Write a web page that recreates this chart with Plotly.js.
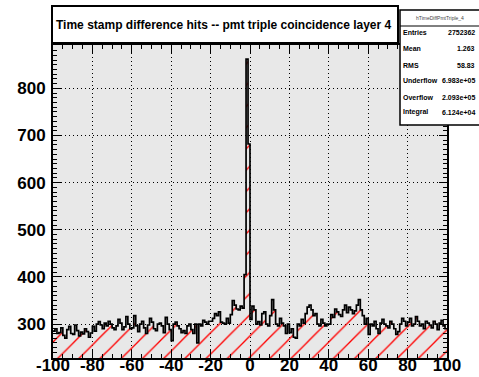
<!DOCTYPE html>
<html>
<head>
<meta charset="utf-8">
<script src="https://cdn.plot.ly/plotly-3.0.1.min.js"></script>
<style>html,body{margin:0;padding:0;background:#fff;}#chart{width:479px;height:377px;}</style>
</head>
<body>
<div id="chart"></div>
<script>
// Histogram: 200 bins of width 1 from -100 to 100
const xMin = -100;
const binWidth = 1;
const countsA = [285, 290, 280, 282, 292, 276, 270, 288, 295, 280, 278, 298, 286, 275, 283, 279, 290, 284, 272, 281];
const countsB = [295, 285, 300, 305, 298, 290, 302, 296, 306, 300, 292, 288, 296, 310, 302, 288, 294, 316, 300, 290];
const countsC = [292, 318, 296, 284, 300, 306, 292, 280, 298, 312, 304, 290, 286, 300, 302, 296, 282, 314, 300, 288];
const countsD = [265, 300, 304, 296, 290, 282, 286, 280, 296, 300, 288, 280, 300, 260, 300, 296, 308, 304, 300, 306];
const countsE = [306, 312, 322, 318, 326, 304, 302, 300, 312, 302, 320, 350, 340, 332, 330, 338, 334, 405, 862, 682];
const countsF = [310, 338, 330, 300, 305, 298, 322, 326, 300, 296, 318, 352, 330, 300, 296, 312, 302, 296, 280, 300];
const countsG = [282, 290, 272, 270, 300, 296, 310, 302, 322, 336, 340, 330, 318, 322, 300, 296, 310, 302, 296, 300];
const countsH = [300, 320, 314, 332, 326, 320, 316, 330, 340, 324, 336, 330, 322, 328, 340, 352, 330, 318, 300, 312];
const countsI = [278, 300, 296, 306, 290, 280, 302, 310, 300, 296, 292, 306, 300, 290, 278, 284, 300, 312, 306, 296];
const countsJ = [304, 312, 296, 300, 316, 306, 296, 300, 290, 306, 302, 298, 292, 306, 300, 288, 302, 308, 296, 290];

const xTickVals = [-100, -80, -60, -40, -20, 0, 20, 40, 60, 80, 100];
const xTickText = ["-100", "-80", "-60", "-40", "-20", "0", "20", "40", "60", "80", "100"];
const yTickVals = [300, 400, 500, 600, 700, 800];
const yTickText = ["300", "400", "500", "600", "700", "800"];

const titleText = "Time stamp difference hits -- pmt triple coincidence layer 4";
const statName = "hTimeDiffPmtTriple_4";
const statLabels = ["Entries", "Mean", "RMS", "Underflow", "Overflow", "Integral"];
const statValues = ["2752362", "1.263", "58.83", "6.983e+05", "2.093e+05", "6.124e+04"];

const counts = [].concat(countsA, countsB, countsC, countsD, countsE, countsF, countsG, countsH, countsI, countsJ);
const edges = [];
const stepY = [];
for (let i = 0; i < counts.length; i++) { edges.push(xMin + i * binWidth); stepY.push(counts[i]); }
edges.push(xMin + counts.length * binWidth); stepY.push(counts[counts.length - 1]);

const trace = {
  type: 'scatter', mode: 'lines', x: edges, y: stepY,
  line: {shape: 'hv', color: '#000', width: 1.7},
  fill: 'tozeroy', fillcolor: 'rgba(0,0,0,0)',
  fillpattern: {shape: '/', fgcolor: '#ff0000', bgcolor: 'rgba(0,0,0,0)', size: 15, solidity: 0.09},
  hoverinfo: 'skip', showlegend: false
};

// plot area: px 53..447 horizontally, 45..358 vertically
const L = 53, R = 447, T = 45, B = 358;
const px = v => (v - L) / (R - L);
const py = v => (B - v) / (B - T);

const tickFont = {family: 'Liberation Sans, Arial, sans-serif', size: 17, color: '#000', weight: 'bold'};
const shapes = [
  {type: 'rect', xref: 'paper', yref: 'paper', x0: px(52), x1: px(398), y0: py(43), y1: py(6), fillcolor: '#fff', line: {color: '#000', width: 2}},
  {type: 'rect', xref: 'paper', yref: 'paper', x0: px(400), x1: px(485), y0: py(125), y1: py(10), fillcolor: '#fff', line: {color: '#000', width: 1.5}},
  {type: 'line', xref: 'paper', yref: 'paper', x0: px(400), x1: px(485), y0: py(26), y1: py(26), line: {color: '#000', width: 1}}
];
const annotations = [
  {xref: 'paper', yref: 'paper', x: px(224), y: py(25), text: '<b>' + titleText + '</b>', showarrow: false, xanchor: 'center', yanchor: 'middle', font: {family: 'Liberation Sans, Arial, sans-serif', size: 12, color: '#000'}},
  {xref: 'paper', yref: 'paper', x: px(440), y: py(18), text: statName, showarrow: false, xanchor: 'center', yanchor: 'middle', font: {family: 'Liberation Sans, Arial, sans-serif', size: 5, color: '#444'}}
];
const rowY = [33, 48, 65, 80, 97, 112];
for (let i = 0; i < statLabels.length; i++) {
  annotations.push({xref: 'paper', yref: 'paper', x: px(401), y: py(rowY[i]), text: '<b>' + statLabels[i] + '</b>', showarrow: false, xanchor: 'left', yanchor: 'middle', font: {family: 'Liberation Sans, Arial, sans-serif', size: 7, color: '#000'}});
  annotations.push({xref: 'paper', yref: 'paper', x: px(477), y: py(rowY[i]), text: '<b>' + statValues[i] + '</b>', showarrow: false, xanchor: 'right', yanchor: 'middle', font: {family: 'Liberation Sans, Arial, sans-serif', size: 7, color: '#000'}});
}

const layout = {
  width: 479, height: 377,
  margin: {l: L, r: 479 - R, t: T, b: 377 - B, pad: 0},
  paper_bgcolor: '#fff', plot_bgcolor: '#e8e8e8',
  xaxis: {
    range: [-100, 100], tickmode: 'array', tickvals: xTickVals, ticktext: xTickText,
    ticks: 'inside', ticklen: 8, tickwidth: 1, tickcolor: '#000',
    minor: {dtick: 5, tick0: 0, ticks: 'inside', ticklen: 4, tickcolor: '#000', showgrid: false},
    showline: true, linecolor: '#000', linewidth: 2, mirror: 'allticks',
    showgrid: true, gridcolor: '#000', gridwidth: 1, griddash: '1px,3px',
    zeroline: false, tickfont: tickFont, ticklabelstandoff: -9
  },
  yaxis: {
    range: [228, 892], tickmode: 'array', tickvals: yTickVals, ticktext: yTickText,
    ticks: 'inside', ticklen: 8, tickwidth: 1, tickcolor: '#000',
    minor: {dtick: 10, tick0: 0, ticks: 'inside', ticklen: 4, tickcolor: '#000', showgrid: false},
    showline: true, linecolor: '#000', linewidth: 2, mirror: 'allticks',
    showgrid: true, gridcolor: '#000', gridwidth: 1, griddash: '1px,3px',
    zeroline: false, tickfont: tickFont, ticklabelstandoff: 2
  },
  shapes: shapes, annotations: annotations, showlegend: false
};

Plotly.newPlot('chart', [trace], layout, {staticPlot: true, displayModeBar: false});
</script>
</body>
</html>
